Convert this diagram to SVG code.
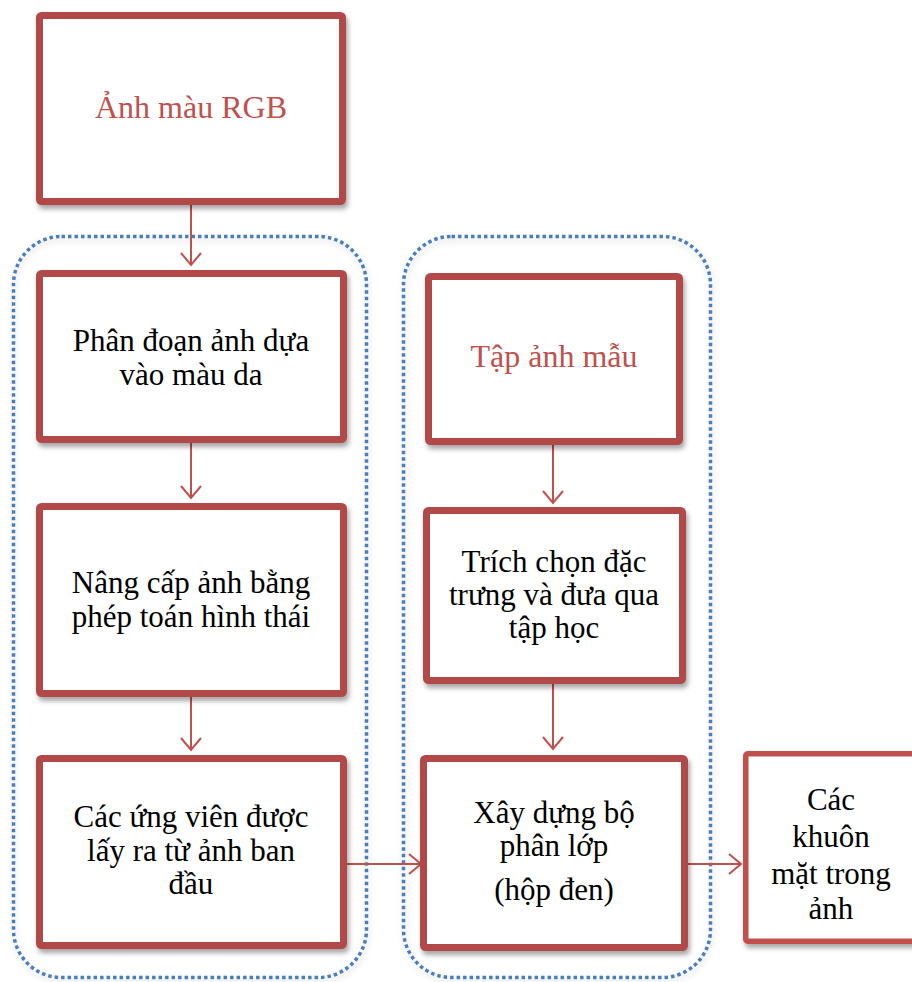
<svg xmlns="http://www.w3.org/2000/svg" width="912" height="982" viewBox="0 0 912 982">
  <style>
    .box { fill: #ffffff; stroke: #b04a47; stroke-width: 7; stroke-linejoin: round; }
    .box-light { fill: #ffffff; stroke: #c0504d; stroke-width: 5.5; stroke-linejoin: round; }
    .group { fill: none; stroke: #4a7ebb; stroke-width: 3.5; stroke-dasharray: 3.5 3; }
    .label { font-family: "Liberation Serif", "Times New Roman", serif; font-size: 31px; fill: #000000; text-anchor: middle; }
    .label-red { fill: #c0504d; font-size: 32px; }
    .conn { fill: none; stroke: #c0504d; stroke-width: 2; }
  </style>
  <defs>
    <filter id="shadow" x="-10%" y="-10%" width="125%" height="125%">
      <feDropShadow dx="2" dy="4" stdDeviation="2.5" flood-color="#000000" flood-opacity="0.35"/>
    </filter>
    <filter id="soft" x="-10%" y="-10%" width="120%" height="120%">
      <feDropShadow dx="1" dy="3" stdDeviation="3" flood-color="#000000" flood-opacity="0.18"/>
    </filter>
    <marker id="arrow" markerUnits="userSpaceOnUse" markerWidth="16" markerHeight="24" refX="13" refY="11" orient="auto">
      <path d="M1,1 L13,11 L1,21" fill="none" stroke="#c0504d" stroke-width="2"/>
    </marker>
  </defs>

  <!-- dotted grouping frames -->
  <g id="frame-left">
    <rect class="group" x="13.5" y="236.5" width="353" height="741" rx="48" filter="url(#soft)"/>
  </g>
  <g id="frame-right">
    <rect class="group" x="403.5" y="236.5" width="307" height="741" rx="48" filter="url(#soft)"/>
  </g>

  <!-- connectors -->
  <g id="connectors">
    <line class="conn" x1="191" y1="205" x2="191" y2="265" marker-end="url(#arrow)"/>
    <line class="conn" x1="191" y1="443" x2="191" y2="498" marker-end="url(#arrow)"/>
    <line class="conn" x1="191" y1="697" x2="191" y2="750" marker-end="url(#arrow)"/>
    <line class="conn" x1="553" y1="445" x2="553" y2="503" marker-end="url(#arrow)"/>
    <line class="conn" x1="553" y1="684" x2="553" y2="749" marker-end="url(#arrow)"/>
    <line class="conn" x1="347" y1="864" x2="421" y2="864" marker-end="url(#arrow)"/>
    <line class="conn" x1="688" y1="864" x2="741" y2="864" marker-end="url(#arrow)"/>
  </g>

  <!-- nodes -->
  <g id="node-rgb">
    <rect class="box" x="39.5" y="15.5" width="303" height="186" rx="2" filter="url(#shadow)"/>
    <text class="label label-red" x="191" y="118">Ảnh màu RGB</text>
  </g>
  <g id="node-segment">
    <rect class="box" x="39.5" y="273.5" width="304" height="166" rx="2" filter="url(#shadow)"/>
    <text class="label" x="191" y="351">Phân đoạn ảnh dựa</text>
    <text class="label" x="191" y="385">vào màu da</text>
  </g>
  <g id="node-morph">
    <rect class="box" x="39.5" y="506.5" width="304" height="187" rx="2" filter="url(#shadow)"/>
    <text class="label" x="191" y="593">Nâng cấp ảnh bằng</text>
    <text class="label" x="191" y="627">phép toán hình thái</text>
  </g>
  <g id="node-candidates">
    <rect class="box" x="39.5" y="758.5" width="304" height="187" rx="2" filter="url(#shadow)"/>
    <text class="label" x="191" y="827">Các ứng viên được</text>
    <text class="label" x="191" y="861">lấy ra từ ảnh ban</text>
    <text class="label" x="191" y="894">đầu</text>
  </g>
  <g id="node-samples">
    <rect class="box" x="428.5" y="276.5" width="251" height="165" rx="2" filter="url(#shadow)"/>
    <text class="label label-red" x="554" y="367">Tập ảnh mẫu</text>
  </g>
  <g id="node-features">
    <rect class="box" x="426.5" y="510.5" width="256" height="170" rx="2" filter="url(#shadow)"/>
    <text class="label" x="554" y="572">Trích chọn đặc</text>
    <text class="label" x="554" y="605">trưng và đưa qua</text>
    <text class="label" x="554" y="638">tập học</text>
  </g>
  <g id="node-classifier">
    <rect class="box" x="423.5" y="758.5" width="261" height="189" rx="2" filter="url(#shadow)"/>
    <text class="label" x="554" y="823">Xây dựng bộ</text>
    <text class="label" x="554" y="856">phân lớp</text>
    <text class="label" x="554" y="900">(hộp đen)</text>
  </g>
  <g id="node-faces">
    <rect class="box-light" x="745.75" y="753.75" width="170" height="187.5" rx="2" filter="url(#shadow)"/>
    <text class="label" x="831" y="810">Các</text>
    <text class="label" x="831" y="847">khuôn</text>
    <text class="label" x="831" y="884">mặt trong</text>
    <text class="label" x="831" y="919">ảnh</text>
  </g>
</svg>
